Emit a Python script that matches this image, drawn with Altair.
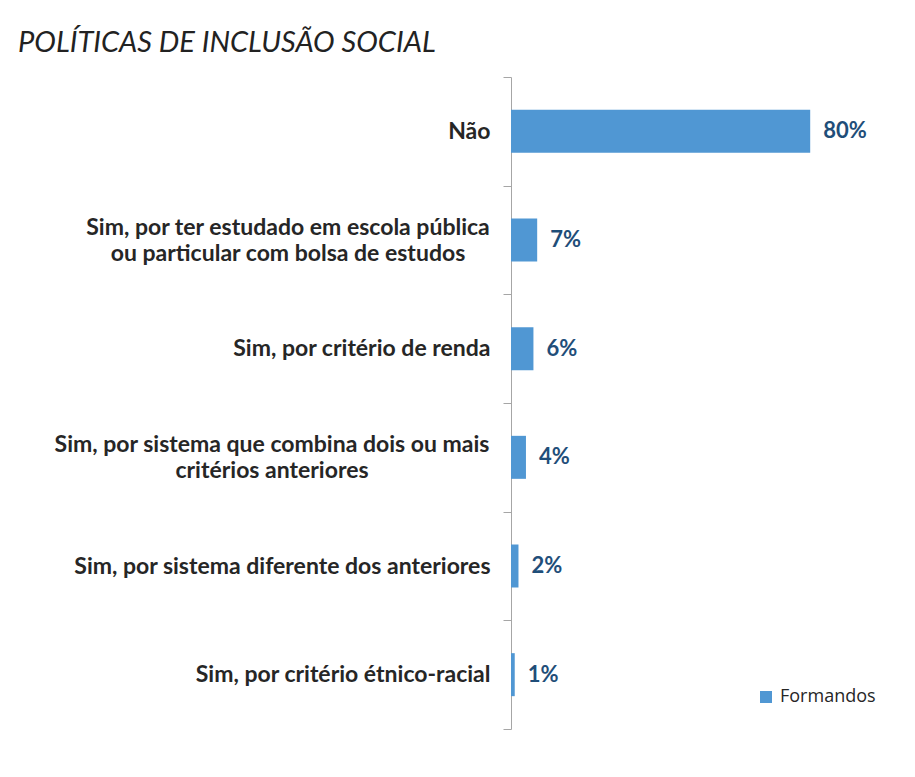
import altair as alt
import pandas as pd

categorias = [
    "Não",
    "Sim, por ter estudado em escola pública|ou particular com bolsa de estudos",
    "Sim, por critério de renda",
    "Sim, por sistema que combina dois ou mais|critérios anteriores",
    "Sim, por sistema diferente dos anteriores",
    "Sim, por critério étnico-racial",
]
percentuais = [80, 7, 6, 4, 2, 1]
serie = ["Formandos"] * len(categorias)

df = pd.DataFrame({"categoria": categorias, "pct": percentuais, "serie": serie})

label_font = dict(font="Lato", fontWeight="bold", fontSize=23, color="#262626")

base = alt.Chart(df).encode(
    y=alt.Y(
        "categoria:N",
        sort=categorias,
        scale=alt.Scale(paddingInner=0, paddingOuter=0),
        axis=alt.Axis(
            title=None,
            tickBand="extent",
            labelExpr="indexof(datum.label, '|') >= 0 ? '' : datum.label",
            domainColor="#A6A6A6",
            tickColor="#A6A6A6",
            tickSize=8,
            labelPadding=13,
            labelFont="Lato",
            labelFontWeight="bold",
            labelFontSize=23,
            labelColor="#262626",
            labelAlign="right",
            labelBaseline="middle",
            labelLimit=700,
            grid=False,
        ),
    ),
    x=alt.X("pct:Q", scale=alt.Scale(domain=[0, 100]), axis=None),
)

bars = base.mark_bar(size=43).encode(
    color=alt.Color(
        "serie:N",
        scale=alt.Scale(domain=["Formandos"], range=["#5097D3"]),
        legend=alt.Legend(
            title=None,
            orient="none",
            legendX=246,
            legendY=611,
            symbolType="square",
            symbolSize=144,
            symbolStrokeWidth=0,
            labelFont="Open Sans",
            labelFontSize=18,
            labelColor="#262626",
            labelOffset=5,
            padding=0,
        ),
    )
)

values = base.mark_text(
    align="left",
    baseline="middle",
    dx=13,
    font="Lato",
    fontWeight="bold",
    fontSize=22,
    color="#1F4E79",
).encode(text="rotulo:N").transform_calculate(rotulo="datum.pct + '%'")


def multi_label(cat, half_width):
    return (
        base.mark_text(
            align="center",
            baseline="middle",
            lineBreak="|",
            lineHeight=26,
            dx=-(21 + half_width),
            dy=-12,
            **label_font,
        )
        .encode(x=alt.value(0), text="categoria:N")
        .transform_filter(alt.datum.categoria == cat)
    )


lab1 = multi_label(categorias[1], 202)
lab2 = multi_label(categorias[3], 218)

chart = (
    alt.layer(bars, values, lab1, lab2)
    .properties(
        width=374,
        height=652,
        autosize="none",
        padding={"left": 503, "top": 69, "right": 20, "bottom": 20},
        title=alt.TitleParams(
            "POLÍTICAS DE INCLUSÃO SOCIAL",
            font="Lato",
            fontStyle="italic",
            fontWeight="normal",
            fontSize=29,
            color="#222222",
            anchor="start",
            frame="group",
            dx=-493,
            offset=8,
        ),
        background="white",
    )
    .configure_view(stroke=None)
)

chart.save("out.html", embed_options={"renderer": "svg", "actions": False})
